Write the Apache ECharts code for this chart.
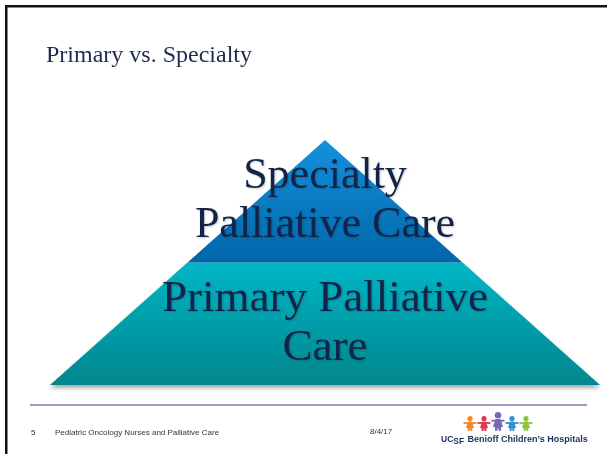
<!DOCTYPE html>
<html>
<head>
<meta charset="utf-8">
<title>Primary vs. Specialty</title>
<script src="https://cdn.jsdelivr.net/npm/echarts@6/dist/echarts.min.js"></script>
<style>
  html, body { margin: 0; padding: 0; background: #fff; }
  #main { width: 607px; height: 454px; }
</style>
</head>
<body>
<div id="main"></div>
<script>
// pyramid layers (bottom to top) - value = relative width of the layer base
const layerNames = ['Primary\nPalliative Care', 'Specialty\nPalliative Care']
const layerLabels = ['Primary Palliative\nCare', 'Specialty\nPalliative Care']
const layerValues = [100, 50]
const layerFontSizes = [45, 44]
// gradient colours for each layer: [top, bottom]
const layerColors = [
  ['#00b6c5', '#00868e'],
  ['#1492de', '#0066a8']
]
// footer texts
const slideNo = '5'
const footerText = 'Pediatric Oncology Nurses and Palliative Care'
const footerDate = '8/4/17'
const kidColors = ['#f28a22', '#e2384d', '#7a67b3', '#2f91d4', '#8cc43f']

const myChart = echarts.init(document.getElementById('main'))

// little paper-doll figures of the logo
const kids = []
kidColors.forEach((c, i) => {
  const big = i === 2
  const cx = 470 + i * 14
  const s = big ? 1.25 : 1
  const top = big ? 412 : 416
  kids.push({
    type: 'circle',
    shape: { cx: cx, cy: top + 2.5 * s, r: 2.6 * s },
    style: { fill: c }
  })
  kids.push({
    type: 'polygon',
    shape: {
      points: [
        [cx - 2 * s, top + 5.5 * s], [cx + 2 * s, top + 5.5 * s],
        [cx + 4 * s, top + 12 * s], [cx + 2.4 * s, top + 12 * s],
        [cx + 2.4 * s, top + 15 * s], [cx + 0.6 * s, top + 15 * s],
        [cx, top + 12 * s], [cx - 0.6 * s, top + 15 * s],
        [cx - 2.4 * s, top + 15 * s], [cx - 2.4 * s, top + 12 * s],
        [cx - 4 * s, top + 12 * s]
      ]
    },
    style: { fill: c }
  })
  kids.push({
    type: 'line',
    shape: { x1: cx - 6.5, y1: top + 7 * s, x2: cx + 6.5, y2: top + 7 * s },
    style: { stroke: c, lineWidth: 1.8 }
  })
})

const option = {
  backgroundColor: '#fff',
  animation: false,
  title: {
    text: 'Primary vs. Specialty',
    left: 46,
    top: 44,
    padding: 0,
    textStyle: {
      fontFamily: 'Liberation Serif',
      fontWeight: 'normal',
      fontSize: 24,
      color: '#1d2b50'
    }
  },
  series: [
    {
      type: 'funnel',
      sort: 'ascending',
      left: 50,
      top: 140,
      width: 550,
      height: 245,
      min: 0,
      max: 100,
      minSize: '0%',
      maxSize: '100%',
      gap: 0,
      silent: true,
      label: {
        show: true,
        position: 'inside',
        fontFamily: 'Liberation Serif',
        lineHeight: 49,
        color: '#13244a',
        textShadowColor: 'rgba(0,0,0,0.2)',
        textShadowBlur: 2,
        textShadowOffsetX: 1,
        textShadowOffsetY: 1,
        formatter: (p) => layerLabels[p.dataIndex]
      },
      labelLine: { show: false },
      data: layerNames.map((name, i) => ({
        name: name,
        value: layerValues[i],
        label: { fontSize: layerFontSizes[i] },
        itemStyle: {
          borderWidth: 0,
          color: new echarts.graphic.LinearGradient(0, 0, 0, 1, [
            { offset: 0, color: layerColors[i][0] },
            { offset: 1, color: layerColors[i][1] }
          ]),
          shadowColor: i === 0 ? 'rgba(0,0,0,0.35)' : 'transparent',
          shadowBlur: i === 0 ? 4 : 0,
          shadowOffsetY: i === 0 ? 3 : 0
        }
      }))
    }
  ],
  graphic: [
    // slide frame (top and left edges)
    { type: 'rect', shape: { x: 5, y: 5, width: 602, height: 2.5 }, style: { fill: '#111' } },
    { type: 'rect', shape: { x: 5, y: 5, width: 2.5, height: 449 }, style: { fill: '#111' } },
    // footer rule
    {
      type: 'line',
      shape: { x1: 30, y1: 405, x2: 587, y2: 405 },
      style: { stroke: '#6f82a5', lineWidth: 1.5 }
    },
    {
      type: 'text',
      style: { text: slideNo, x: 31, y: 433, font: '8px "Liberation Sans"', fill: '#333', verticalAlign: 'middle' }
    },
    {
      type: 'text',
      style: { text: footerText, x: 55, y: 433, font: '8px "Liberation Sans"', fill: '#333', verticalAlign: 'middle' }
    },
    {
      type: 'text',
      style: { text: footerDate, x: 370, y: 432, font: '8px "Liberation Sans"', fill: '#333', verticalAlign: 'middle' }
    },
    ...kids,
    {
      type: 'text',
      style: {
        text: '{a|UC}{b|SF} {c|Benioff Children\u2019s Hospitals}',
        x: 441,
        y: 440,
        verticalAlign: 'middle',
        rich: {
          a: { fontFamily: 'Liberation Sans', fontWeight: 'bold', fontSize: 8.5, fill: '#1b2f5e' },
          b: { fontFamily: 'Liberation Sans', fontWeight: 'bold', fontSize: 8.5, fill: '#1b2f5e', padding: [3, 0, 0, 0] },
          c: { fontFamily: 'Liberation Sans', fontWeight: 'bold', fontSize: 9, fill: '#1b2f5e' }
        }
      }
    }
  ]
}

option && myChart.setOption(option)
</script>
</body>
</html>
